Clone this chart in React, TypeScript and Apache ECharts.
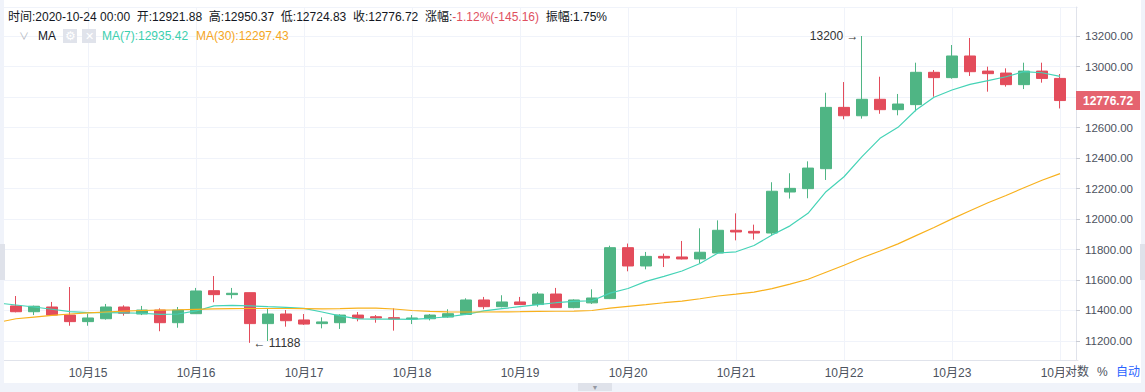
import React, { useEffect, useRef } from "react";
import * as echarts from "echarts";

// 4-hour slots from 2020-10-14 04:00 to 2020-10-24 04:00 (first and last slot hold no candle)
const times: string[] = [];
for (let d = 14; d <= 24; d++) {
  for (const h of [0, 4, 8, 12, 16, 20]) {
    if ((d === 14 && h < 4) || (d === 24 && h > 4)) continue;
    times.push(`2020-10-${d} ${String(h).padStart(2, "0")}:00`);
  }
}

// candles 2020-10-14 08:00 ... 2020-10-24 00:00
const open = [
  11430, 11392, 11423, 11370, 11327, 11346, 11423, 11377, 11403, 11320,
  11379, 11530, 11504, 11517, 11314, 11377, 11338, 11314, 11320, 11370,
  11359, 11353, 11344, 11346, 11357, 11374, 11469, 11425, 11456, 11439,
  11508, 11419, 11450, 11478, 11812, 11692, 11755, 11751, 11738, 11777,
  11926, 11919, 11908, 12177, 12199, 12330, 12732, 12677, 12785, 12717,
  12750, 12962, 12927, 13069, 12970, 12957, 12881, 12970, 12921.88,
];
const high = [
  11495, 11432, 11456, 11554, 11379, 11443, 11434, 11430, 11414, 11423,
  11548, 11626, 11548, 11518, 11414, 11403, 11377, 11355, 11375, 11390,
  11370, 11414, 11370, 11377, 11408, 11480, 11489, 11500, 11489, 11521,
  11548, 11473, 11539, 11825, 11839, 11784, 11773, 11856, 11939, 11991,
  12037, 11963, 12241, 12300, 12378, 12828, 12898, 13200, 12933, 12820,
  13025, 12977, 13141, 13187, 12999, 12988, 13025, 13025, 12950.37,
];
const low = [
  11388, 11370, 11368, 11300, 11300, 11340, 11366, 11370, 11264, 11287,
  11377, 11454, 11478, 11188, 11200, 11294, 11305, 11283, 11279, 11329,
  11320, 11268, 11311, 11335, 11353, 11370, 11408, 11421, 11437, 11425,
  11419, 11415, 11443, 11475, 11657, 11670, 11685, 11735, 11708, 11773,
  11860, 11865, 11893, 12134, 12136, 12256, 12654, 12658, 12690, 12680,
  12706, 12802, 12920, 12938, 12835, 12868, 12852, 12894, 12724.83,
];
const close = [
  11392, 11428, 11370, 11327, 11351, 11423, 11382, 11403, 11320, 11403,
  11528, 11504, 11513, 11314, 11377, 11333, 11311, 11325, 11370, 11349,
  11351, 11344, 11351, 11370, 11379, 11469, 11425, 11456, 11439, 11508,
  11419, 11469, 11482, 11812, 11692, 11755, 11744, 11738, 11782, 11926,
  11915, 11908, 12182, 12201, 12334, 12732, 12677, 12785, 12717, 12754,
  12962, 12927, 13069, 12966, 12953, 12881, 12970, 12921.88, 12776.72,
];

// moving averages, slots 2020-10-14 04:00 ... 2020-10-24 00:00
const ma7 = [
  11449, 11436, 11423, 11408, 11392, 11386, 11386, 11384, 11382, 11375,
  11377, 11397, 11430, 11434, 11430, 11425, 11421, 11414, 11390, 11365,
  11345, 11344, 11344, 11342, 11349, 11359, 11375, 11397, 11412, 11425,
  11438, 11451, 11460, 11464, 11514, 11544, 11591, 11624, 11659, 11708,
  11777, 11785, 11826, 11895, 11955, 12037, 12179, 12277, 12409, 12529,
  12601, 12715, 12798, 12846, 12883, 12907, 12933, 12966, 12959, 12935.42,
];
const ma30 = [
  11322, 11346, 11357, 11368, 11377, 11384, 11390, 11396, 11400, 11403,
  11405, 11408, 11411, 11412, 11413, 11413, 11413, 11412, 11411, 11412,
  11415, 11416, 11410, 11400, 11394, 11391, 11390, 11390, 11391, 11392,
  11394, 11395, 11396, 11400, 11416, 11427, 11438, 11451, 11462, 11477,
  11495, 11507, 11521, 11543, 11573, 11605, 11651, 11697, 11746, 11790,
  11837, 11891, 11944, 12001, 12054, 12107, 12154, 12205, 12254, 12297.43,
];

const UP = "#4fb584";
const DOWN = "#e34c5b";
const MA7C = "#45d3b6";
const MA30C = "#f8b11d";
const FONT = "Arial, 'Noto Sans CJK SC', sans-serif";
const TXT = "#4c525e";

function buildOption() {
  const n = close.length;
  const candleData: any[] = ["-"];
  for (let i = 0; i < n; i++) candleData.push([open[i], close[i], low[i], high[i]]);
  candleData.push("-");

  const iMax = high.indexOf(Math.max(...high));
  const iMin = low.indexOf(Math.min(...low));
  const last = n - 1;
  const prev = close[last - 1];
  const chg = close[last] - prev;
  const pct = (chg / prev) * 100;
  const amp = ((high[last] - low[last]) / prev) * 100;
  const isDay = (_: number, v: string) => v.endsWith("00:00");

  const row1 =
    `{a|时间:${times[last + 1]}  开:${open[last].toFixed(2)}  高:${high[last].toFixed(2)}  ` +
    `低:${low[last].toFixed(2)}  收:${close[last].toFixed(2)}  涨幅:}` +
    `{r|${pct.toFixed(2)}%(${chg.toFixed(2)})}{a|  振幅:${amp.toFixed(2)}%}`;

  return {
    animation: false,
    backgroundColor: "#ffffff",
    textStyle: { fontFamily: FONT },
    grid: { left: -2, right: 67, top: 7, bottom: 32, outerBoundsMode: "none" },
    xAxis: {
      type: "category",
      data: times,
      boundaryGap: false,
      axisLine: { show: true, lineStyle: { color: "#e0e3eb" } },
      axisTick: { show: false },
      axisLabel: {
        interval: isDay,
        color: TXT,
        fontSize: 12,
        margin: 7,
        formatter: (v: string) => `${+v.slice(5, 7)}月${+v.slice(8, 10)}`,
      },
      splitLine: { show: true, interval: isDay, lineStyle: { color: "#f0f3fa", width: 1 } },
    },
    yAxis: {
      type: "value",
      position: "right",
      min: 11075.4,
      max: 13390.2,
      splitNumber: 11,
      minInterval: 200,
      maxInterval: 200,
      offset: -2,
      axisLine: { show: true, lineStyle: { color: "#e0e3eb" } },
      axisTick: { show: true, length: 4, lineStyle: { color: "#c9ccd4" } },
      axisLabel: {
        color: TXT,
        fontSize: 11.5,
        margin: 9,
        showMinLabel: false,
        showMaxLabel: false,
        // the tick label that sits under the current-price tag is covered by it
        formatter: (v: number) => (Math.abs(v - close[last]) < 60 ? "" : v.toFixed(2)),
      },
      splitLine: { show: true, lineStyle: { color: "#f0f3fa", width: 1 } },
    },
    series: [
      {
        type: "candlestick",
        data: candleData,
        barWidth: 12,
        itemStyle: { color: UP, color0: DOWN, borderColor: UP, borderColor0: DOWN, borderWidth: 1 },
        markLine: {
          silent: true,
          symbol: ["none", "none"],
          lineStyle: { width: 0, color: "rgba(0,0,0,0)" },
          label: {
            show: true,
            position: "end",
            distance: -2,
            formatter: close[last].toFixed(2),
            color: "#ffffff",
            fontWeight: "bold",
            fontSize: 12,
            backgroundColor: "#e5636f",
            padding: [4, 7, 3, 7],
          },
          data: [{ yAxis: close[last] }],
        },
        markPoint: {
          symbol: "circle",
          symbolSize: 1,
          silent: true,
          itemStyle: { color: "rgba(0,0,0,0)" },
          label: { show: true, color: "#333", fontSize: 12 },
          data: [
            {
              coord: [times[iMax + 1], high[iMax]],
              label: { position: "left", distance: 3, formatter: `${high[iMax]} →` },
            },
            {
              coord: [times[iMin + 1], low[iMin]],
              label: { position: "right", distance: 3, formatter: `← ${low[iMin]}` },
            },
          ],
        },
      },
      {
        type: "line",
        data: [...ma7, "-"],
        symbol: "none",
        lineStyle: { width: 1.2, color: MA7C },
        z: 3,
      },
      {
        type: "line",
        data: [...ma30, "-"],
        symbol: "none",
        lineStyle: { width: 1.2, color: MA30C },
        z: 3,
      },
    ],
    graphic: [
      // side strips
      { type: "rect", z: 50, shape: { x: 0, y: 0, width: 4, height: 392 }, style: { fill: "#f0f3fa" } },
      { type: "rect", z: 51, shape: { x: 0, y: 244, width: 5, height: 36 }, style: { fill: "#dfe2ea" } },
      { type: "rect", z: 50, shape: { x: 1141, y: 0, width: 4, height: 392 }, style: { fill: "#f0f3fa" } },
      { type: "rect", z: 51, shape: { x: 1140, y: 244, width: 5, height: 36 }, style: { fill: "#dfe2ea" } },
      // bottom strip
      { type: "rect", z: 50, shape: { x: 0, y: 383, width: 1145, height: 9 }, style: { fill: "#f0f3fa" } },
      { type: "rect", z: 51, shape: { x: 578, y: 383, width: 34, height: 8 }, style: { fill: "#dfe2ea" } },
      { type: "text", z: 52, x: 595, y: 387, style: { text: "▼", fill: "#9598a1", fontSize: 7, align: "center", verticalAlign: "middle" } },
      // bottom-right scale buttons
      { type: "rect", z: 60, shape: { x: 1064, y: 362, width: 77, height: 20 }, style: { fill: "#ffffff" } },
      { type: "text", z: 61, x: 1065, y: 372, style: { text: "对数", fill: TXT, fontSize: 12, fontFamily: FONT, verticalAlign: "middle" } },
      { type: "text", z: 61, x: 1097, y: 372, style: { text: "%", fill: TXT, fontSize: 12, fontFamily: FONT, verticalAlign: "middle" } },
      { type: "text", z: 61, x: 1116, y: 372, style: { text: "自动", fill: "#2962ff", fontSize: 12, fontFamily: FONT, verticalAlign: "middle" } },
      // header row 1
      {
        type: "text",
        z: 70,
        x: 8,
        y: 17,
        style: {
          text: row1,
          verticalAlign: "middle",
          fontSize: 12,
          fontFamily: FONT,
          fill: "#131722",
          rich: {
            a: { fill: "#131722", fontSize: 12, fontFamily: FONT },
            r: { fill: "#e0505f", fontSize: 12, fontFamily: FONT },
          },
        },
      },
      // header row 2
      { type: "text", z: 70, x: 24, y: 36, style: { text: "∨", fill: "#b2b5be", fontSize: 10, fontFamily: FONT, align: "center", verticalAlign: "middle" } },
      { type: "text", z: 70, x: 38, y: 36, style: { text: "MA", fill: "#131722", fontSize: 12, fontFamily: FONT, verticalAlign: "middle" } },
      { type: "rect", z: 70, shape: { x: 63, y: 29, width: 14, height: 14 }, style: { fill: "#e0e3eb" } },
      { type: "text", z: 71, x: 70, y: 36, style: { text: "⚙", fill: "#ffffff", fontSize: 12, align: "center", verticalAlign: "middle" } },
      { type: "rect", z: 70, shape: { x: 82, y: 29, width: 14, height: 14 }, style: { fill: "#e0e3eb" } },
      { type: "text", z: 71, x: 89, y: 36, style: { text: "✕", fill: "#ffffff", fontSize: 11, align: "center", verticalAlign: "middle" } },
      { type: "text", z: 70, x: 102, y: 36, style: { text: `MA(7):${ma7[ma7.length - 1].toFixed(2)}`, fill: "#3ccfae", fontSize: 12, fontFamily: FONT, verticalAlign: "middle" } },
      { type: "text", z: 70, x: 196, y: 36, style: { text: `MA(30):${ma30[ma30.length - 1].toFixed(2)}`, fill: "#f5a623", fontSize: 12, fontFamily: FONT, verticalAlign: "middle" } },
    ],
  };
}

export default function App() {
  const ref = useRef<HTMLDivElement>(null);
  useEffect(() => {
    if (!ref.current) return;
    const chart = echarts.init(ref.current, undefined, { renderer: "svg" });
    chart.setOption(buildOption() as any);
    return () => chart.dispose();
  }, []);
  return (
    <div
      ref={ref}
      style={{ position: "absolute", left: 0, top: 0, width: 1145, height: 392, background: "#ffffff" }}
    />
  );
}
